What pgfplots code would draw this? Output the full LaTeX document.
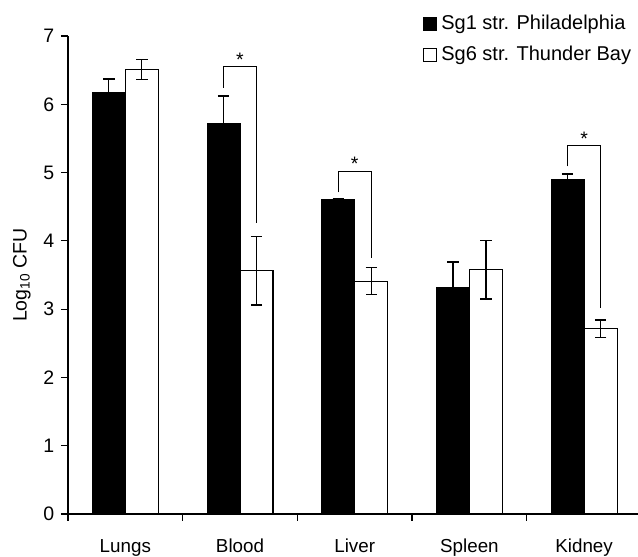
\documentclass[border=0pt]{standalone}
\usepackage{fontspec}
\setmainfont{Liberation Sans}
\usepackage{pgfplots}
\pgfplotsset{compat=1.18}
\newcommand{\legfont}{\fontsize{20pt}{24pt}\selectfont}
\begin{document}
\begin{tikzpicture}
\fontsize{19.5pt}{23pt}\selectfont
\begin{axis}[
 name=ax,
 scale only axis,
 width=570pt, height=478pt,
 xmin=-0.5, xmax=4.47,
 ymin=0, ymax=7,
 axis x line=bottom, axis y line=left,
 axis line style={-, line width=1.2pt, black},
 ybar=0pt, bar width=33pt,
 xtick={-0.5,0.5,1.5,2.5,3.5},
 xticklabels={},
 extra x ticks={0,1,2,3,4},
 extra x tick labels={Lungs,Blood,Liver,Spleen,Kidney},
 extra x tick style={major tick length=0pt},
 ytick={0,1,2,3,4,5,6,7},
 tick align=outside,
 major tick length=7pt,
 tick style={line width=1.2pt, black},
 /pgf/number format/assume math mode=true,
 yticklabel style={font=\fontsize{19.5pt}{23pt}\selectfont},
 xticklabel style={font=\fontsize{18.8pt}{22pt}\selectfont, text height=14pt, text depth=4pt, yshift=-18pt},
 ylabel={Log\textsubscript{10} CFU},
 ylabel style={at={(axis description cs:-0.081,0.5)}, anchor=center, font=\fontsize{19.5pt}{23pt}\selectfont},
 legend style={at={(0.997,1.053)}, anchor=north east, draw=none, fill=none, font=\legfont, row sep=10pt},
 legend cell align=left,
 legend image code/.code={\draw[#1, line width=1pt] (0pt,-6.5pt) rectangle (13pt,6.5pt); \path[draw=none, fill=none] (13pt,0pt) -- (16pt,0pt);},
 error bars/error bar style={line width=1.2pt, black},
 error bars/error mark options={rotate=90, mark size=5.7pt, line width=1.2pt, black},
]
\addplot[fill=black, draw=black, line width=1pt,
  error bars/.cd, y dir=both, y explicit]
 coordinates {(0,6.17) +- (0,0.20) (1,5.72) +- (0,0.40) (2,4.60) +- (0,0.02) (3,3.32) +- (0,0.37) (4,4.90) +- (0,0.08)};
\addlegendentry{\legfont Sg1 str. Philadelphia}
\addplot[fill=white, draw=black, line width=1.1pt,
  error bars/.cd, y dir=both, y explicit]
 coordinates {(0,6.51) +- (0,0.15) (1,3.56) +- (0,0.50) (2,3.41) +- (0,0.20) (3,3.58) +- (0,0.43) (4,2.71) +- (0,0.13)};
\addlegendentry{\legfont Sg6 str. Thunder Bay}
% significance brackets
\addplot[sharp plot, no markers, draw=black, line width=1.1pt, forget plot]
 coordinates {(0.856,6.24) (0.856,6.55) (1.144,6.55) (1.144,4.26)};
\addplot[sharp plot, no markers, draw=black, line width=1.1pt, forget plot]
 coordinates {(1.856,4.71) (1.856,5.02) (2.144,5.02) (2.144,3.75)};
\addplot[sharp plot, no markers, draw=black, line width=1.1pt, forget plot]
 coordinates {(3.856,5.09) (3.856,5.39) (4.144,5.39) (4.144,3.02)};
\node[anchor=south, inner sep=0pt, yshift=0.5pt] at (axis cs:1,6.55) {*};
\node[anchor=south, inner sep=0pt, yshift=0.5pt] at (axis cs:2,5.02) {*};
\node[anchor=south, inner sep=0pt, yshift=0.5pt] at (axis cs:4,5.39) {*};
\end{axis}
\pgfresetboundingbox
\path[use as bounding box] ([shift={(-68pt,-43pt)}]ax.south west) rectangle ++(638pt,557pt);
\end{tikzpicture}
\end{document}
